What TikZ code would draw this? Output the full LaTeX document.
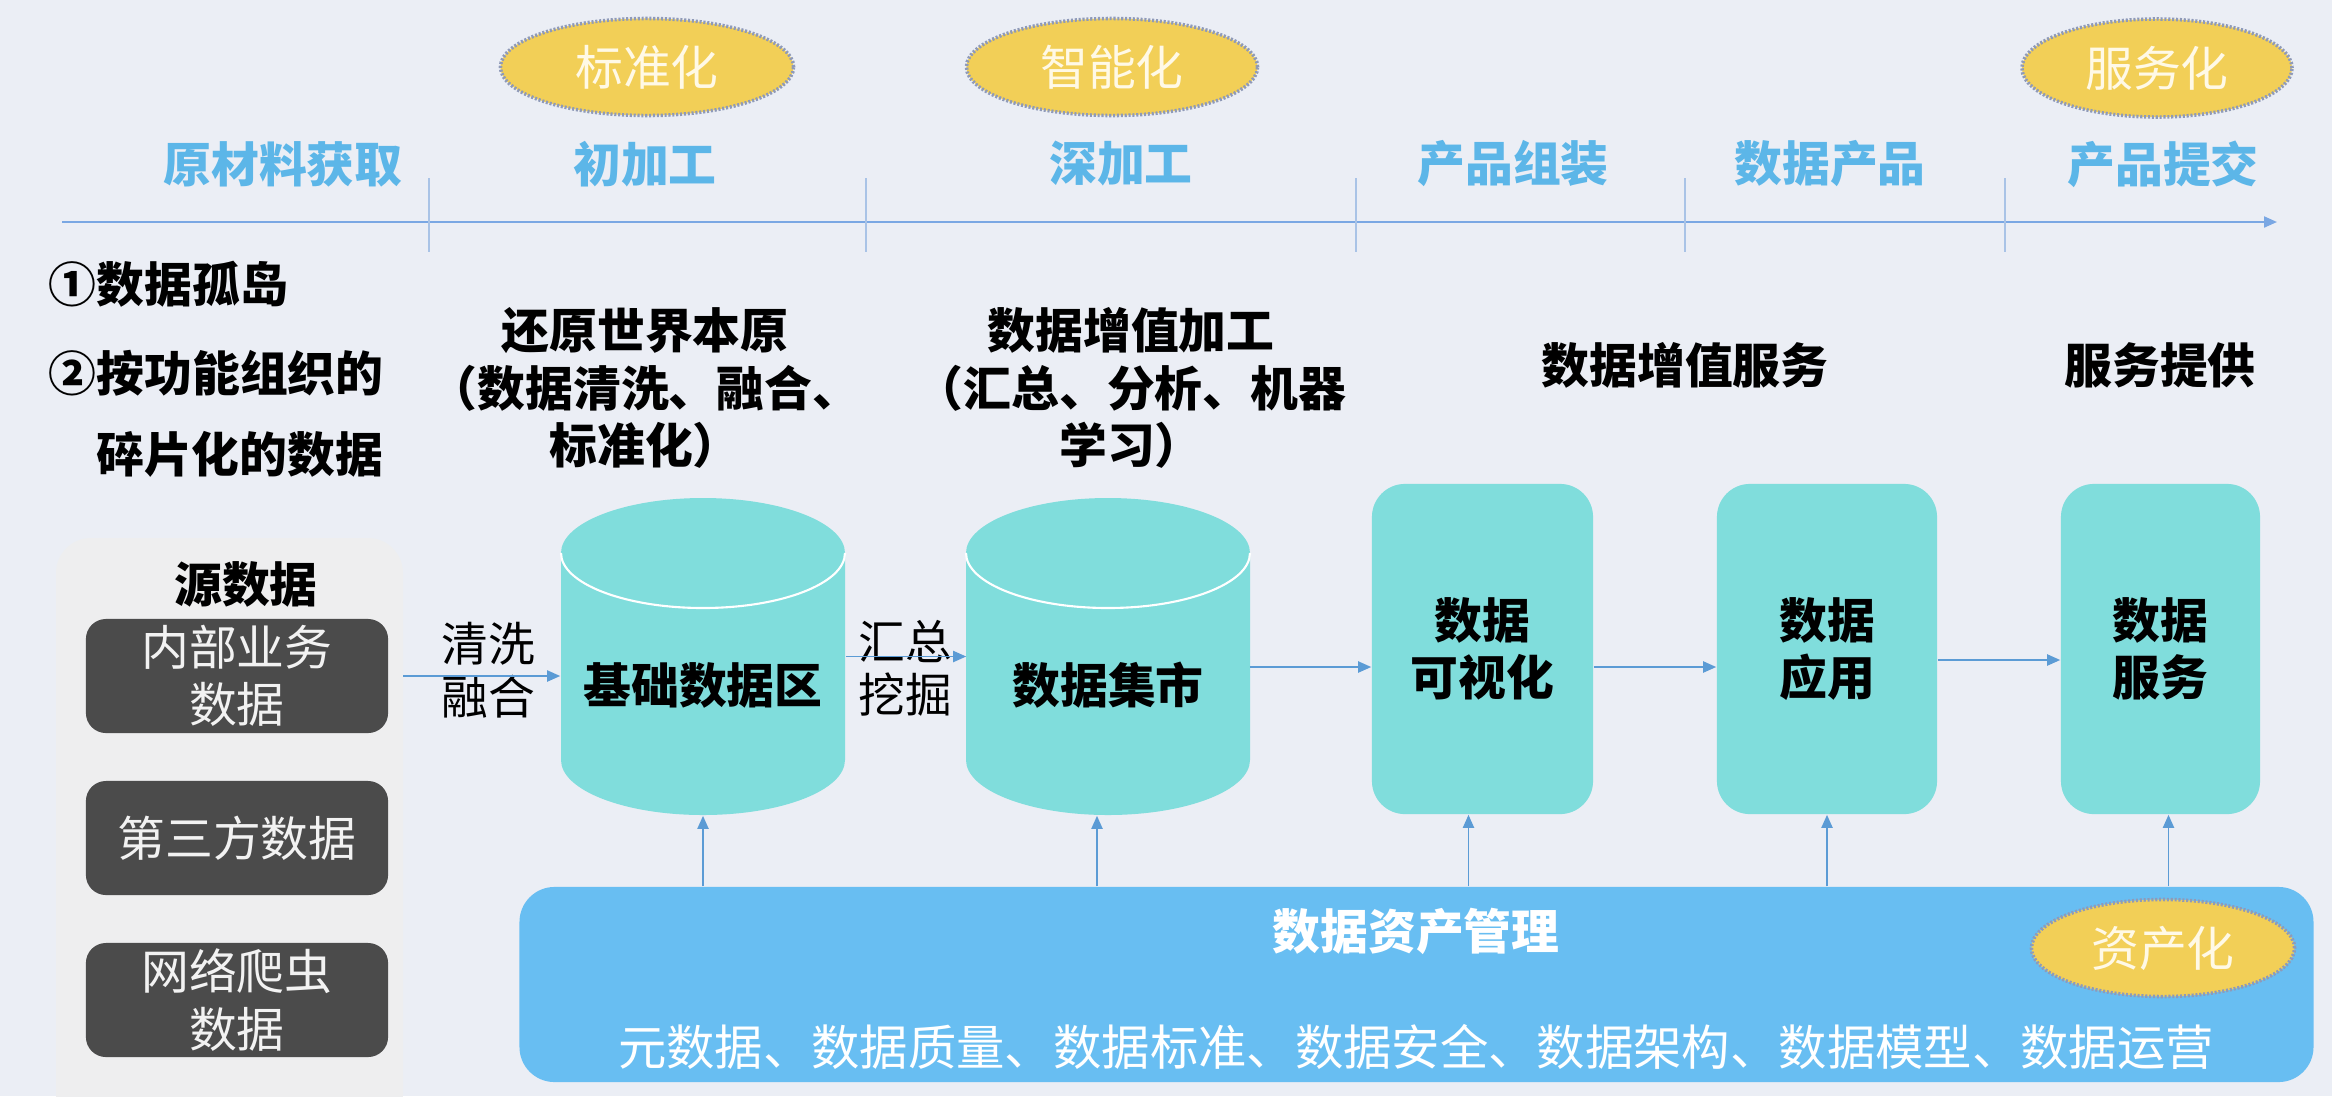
\documentclass[tikz,border=0pt]{standalone}
\usepackage{fontspec}
\setmainfont{Noto Sans CJK SC}
\usetikzlibrary{arrows.meta,shapes.geometric}
\definecolor{bg}{HTML}{EBEEF5}
\definecolor{cyanf}{HTML}{80DDDC}
\definecolor{bluebox}{HTML}{68BEF2}
\definecolor{yel}{HTML}{F2CF57}
\definecolor{ellb}{HTML}{8F9AB8}
\definecolor{cream}{HTML}{FFF9E6}
\definecolor{stagec}{HTML}{5CB6E8}
\definecolor{arrc}{HTML}{5B9BD5}
\definecolor{axisc}{HTML}{7AA7E3}
\definecolor{tickc}{HTML}{A9C3E6}
\definecolor{panelc}{HTML}{EEEEEF}
\definecolor{darkc}{HTML}{4B4B4B}
\newcommand\fsA{\fontsize{13.6pt}{16.3pt}\selectfont}
\newcommand\fsB{\fontsize{13.3pt}{15.2pt}\selectfont}
\newcommand\fsC{\fontsize{13.75pt}{15.2pt}\selectfont}
\newcommand\cylshape[1]{%
  \fill[cyanf] ({#1-142},553) -- ({#1-142},760)
    arc[start angle=180,end angle=0,x radius=142,y radius=55]
    -- ({#1+142},553)
    arc[start angle=0,end angle=-180,x radius=142,y radius=55] -- cycle;
  \draw[white,line width=0.6pt] ({#1-142},553)
    arc[start angle=180,end angle=0,x radius=142,y radius=55];
}
\tikzset{
  ell/.style={ellipse,fill=yel,draw=ellb,line width=1pt,dash pattern=on 0.6pt off 0.5pt,
    text=cream,font=\fsA,inner sep=0pt},
  stage/.style={text=stagec,font=\bfseries\fsA,inner sep=0pt},
  btxt/.style={text=black,font=\bfseries\fsA,align=center,inner sep=0pt},
  ltxt/.style={text=black,font=\fsB,align=center,inner sep=0pt},
  darkbox/.style={fill=darkc,rounded corners=0.2cm,text=white!95!black,font=\fsA,align=center,
    minimum width=3.02cm,minimum height=1.14cm,inner sep=0pt},
  tealbox/.style={fill=cyanf,rounded corners=0.33cm,font=\bfseries\fsA,align=center,
    minimum height=3.30cm,inner sep=0pt},
  arr/.style={draw=arrc,line width=0.55pt,-{Triangle[length=0.13cm,width=0.11cm]}},
}
\begin{document}
\begin{tikzpicture}[x=0.01cm,y=-0.01cm]
\fill[bg] (0,0) rectangle (2332,1096);
\useasboundingbox (0,0) rectangle (2332,1096);

% top ellipses
\node[ell,minimum width=2.93cm,minimum height=0.97cm] (e1) at (647,67) {标准化};
\node[ell,minimum width=2.91cm,minimum height=0.97cm] (e2) at (1112,67) {智能化};
\node[ell,minimum width=2.70cm,minimum height=0.98cm] (e3) at (2157,68) {服务化};

% stage labels
\node[stage] (s1) at (283,164) {原材料获取};
\node[stage] (s2) at (645,164) {初加工};
\node[stage] (s3) at (1121,164) {深加工};
\node[stage] (s4) at (1513,164) {产品组装};
\node[stage] (s5) at (1830,164) {数据产品};
\node[stage] (s6) at (2163,164) {产品提交};

% axis
\coordinate (ax0) at (62,222);
\coordinate (ax1) at (2277,222);
\draw[draw=axisc,line width=0.6pt,-{Triangle[length=0.13cm,width=0.11cm]}] (ax0) -- (ax1);
\foreach \x in {429,866,1356,1685,2005}
  \draw[tickc,line width=0.4pt] (\x,178) -- (\x,252);

% left texts
\node[btxt,anchor=west] (t1) at (48,284) {①数据孤岛};
\node[btxt,anchor=west] (t2) at (48,373) {②按功能组织的};
\node[btxt,anchor=east] (t3) at (384,454) {碎片化的数据};

\node[btxt] (h1) at (645,388) {还原世界本原\\（数据清洗、融合、\\标准化）};
\node[btxt] (h2) at (1131,388) {数据增值加工\\（汇总、分析、机器\\学习）};
\node[btxt] (h3) at (1685,365) {数据增值服务};
\node[btxt] (h4) at (2160,365) {服务提供};

% source panel
\fill[panelc,rounded corners=0.35cm] (56,538) rectangle (403,1130);
\node[btxt] (src) at (246,584) {源数据};
\node[darkbox] (b1) at (237,676) {内部业务\\数据};
\node[darkbox] (b2) at (237,838) {第三方数据};
\node[darkbox] (b3) at (237,1000) {网络爬虫\\数据};
\coordinate (pe) at (403,676);

% cylinders
\cylshape{703}
\cylshape{1108}
\node[btxt,minimum width=2.84cm,minimum height=3.17cm] (c1) at (703,656.5) {};
\node[btxt,minimum width=2.82cm,minimum height=3.17cm] (c2) at (1108,656.5) {};
\node[btxt] (c1t) at (703,685) {基础数据区};
\node[btxt] (c2t) at (1108,685) {数据集市};

% teal boxes
\node[tealbox,minimum width=2.21cm] (v1) at (1482.5,649) {数据\\可视化};
\node[tealbox,minimum width=2.20cm] (v2) at (1827,649) {数据\\应用};
\node[tealbox,minimum width=1.99cm] (v3) at (2160.5,649) {数据\\服务};

% arrow labels
\node[ltxt] (l1) at (488,670) {清洗\\融合};
\node[ltxt] (l2) at (905,668) {汇总\\挖掘};

% horizontal arrows
\coordinate (r1) at (0,667);
\coordinate (r2) at (0,660);
\draw[arr] (pe) -- (c1.west |- pe);
\draw[arr] (c1.east) -- (c2.west);
\draw[arr] (c2.east |- r1) -- (v1.west |- r1);
\draw[arr] (v1.east |- r1) -- (v2.west |- r1);
\draw[arr] (v2.east |- r2) -- (v3.west |- r2);

% bottom management box
\node[fill=bluebox,rounded corners=0.35cm,minimum width=17.93cm,minimum height=1.95cm,inner sep=0pt] (am) at (1416.5,984.5) {};
\node[btxt,text=white] (amt) at (1416,931) {数据资产管理};
\node[ltxt,text=white,font=\fsC] (aml) at (1416,1047) {元数据、数据质量、数据标准、数据安全、数据架构、数据模型、数据运营};
\node[ell,minimum width=2.63cm,minimum height=0.97cm] (e4) at (2163,948) {资产化};

% vertical arrows
\draw[arr] (am.north -| c1.south) -- (c1.south);
\draw[arr] ([xshift=-0.11cm]am.north -| c2.south) -- ([xshift=-0.11cm]c2.south);
\draw[arr] ([xshift=-0.14cm]am.north -| v1.south) -- ([xshift=-0.14cm]v1.south);
\draw[arr] (am.north -| v2.south) -- (v2.south);
\draw[arr] ([xshift=0.08cm]am.north -| v3.south) -- ([xshift=0.08cm]v3.south);
\end{tikzpicture}
\end{document}
